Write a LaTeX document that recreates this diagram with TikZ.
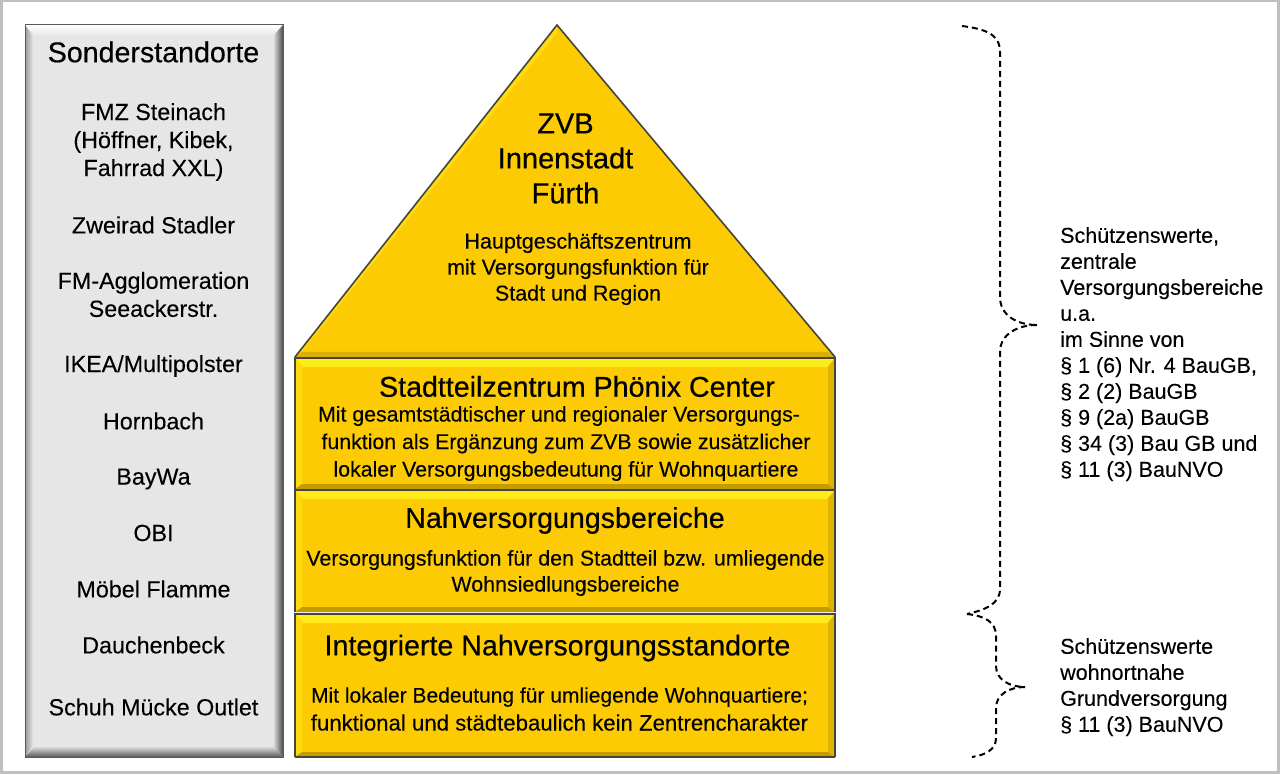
\documentclass[tikz,border=0pt]{standalone}
\usepackage{fontspec}
\setmainfont{Liberation Sans}[FakeBold=0.15]
\newfontfamily\heavy{Liberation Sans}[FakeBold=0.45]
\definecolor{Face}{HTML}{E6E6E6}
\definecolor{Gold}{HTML}{FDCB04}
\definecolor{GoldLight}{HTML}{FFEA1C}
\definecolor{GoldDark}{HTML}{C49C00}
\definecolor{EdgeDark}{HTML}{45453A}
\begin{document}
\begin{tikzpicture}[x=1pt,y=-1pt]
	\tikzstyle{Title} = [inner sep=0pt, align=center, font=\heavy\fontsize{28.6}{32}\selectfont]
	\tikzstyle{Entry} = [inner sep=0pt, align=center, font=\fontsize{23.3}{28}\selectfont]
	\tikzstyle{Head} = [inner sep=0pt, align=center, font=\heavy\fontsize{28.6}{34}\selectfont]
	\tikzstyle{Body} = [inner sep=0pt, align=center, font=\fontsize{21.3}{27.5}\selectfont]
	\tikzstyle{Note} = [inner sep=0pt, align=left, anchor=north west, font=\fontsize{21.5}{26}\selectfont]
	\tikzstyle{Brace} = [draw=black, line width=2pt, dash pattern=on 6pt off 4pt]
	\useasboundingbox (0,0) rectangle (1280,775);
	\fill[white] (0,0) rectangle (1280,775);
	\draw[black!25, line width=2.5pt] (1.5,1) rectangle (1278.5,772.5);
	% grey column
	\fill[Face] (25,25) rectangle (283,757);
	\shade[top color=white, bottom color=Face] (25,25) -- (283,25) -- (273,36) -- (35,36) -- cycle;
	\shade[left color=black!40, right color=Face] (25,25) -- (33,36) -- (33,746) -- (25,757) -- cycle;
	\shade[left color=Face, right color=black!70] (283,25) -- (273,36) -- (273,746) -- (283,757) -- cycle;
	\shade[top color=Face, bottom color=black!65] (25,757) -- (35,746) -- (273,746) -- (283,757) -- cycle;
	\draw[black!65, line width=1pt] (25,25) rectangle (283,757);
	% roof
	\fill[Gold] (557,25) -- (835,357) -- (295,357) -- cycle;
	\fill[GoldLight!50!Gold] (557,25) -- (295,357) -- (302,352) -- (557,33) -- cycle;
	\fill[GoldDark!60!Gold] (302,352) -- (295,357) -- (835,357) -- (828,352) -- cycle;
	\draw[EdgeDark, line width=1.6pt] (295,357) -- (557,25) -- (835,357);
	% storeys
	\foreach \ya/\yb in {358/489, 490/612, 614/757}{
		\fill[Gold] (295,\ya) rectangle (835,\yb);
		\fill[GoldLight] (295,\ya) -- (835,\ya) -- (827,\ya+9) -- (303,\ya+9) -- cycle;
		\fill[GoldLight!50!Gold] (295,\ya) -- (302,\ya+9) -- (302,\yb-5) -- (295,\yb) -- cycle;
		\fill[GoldDark] (295,\yb) -- (302,\yb-5) -- (828,\yb-5) -- (835,\yb) -- cycle;
		\fill[GoldDark!50!Gold] (835,\ya) -- (828,\ya+9) -- (828,\yb-5) -- (835,\yb) -- cycle;
		\draw[EdgeDark, line width=2pt] (295,\yb) -- (295,\ya) -- (835,\ya) -- (835,\yb);
	}
	\draw[EdgeDark, line width=2pt] (295,757) -- (835,757);
	% left column
	\node (sonder) at (153.5,52) [Title] {Sonderstandorte};
	\node (fmz) at (153.5,142) [Entry] {FMZ Steinach\\(Höffner, Kibek,\\Fahrrad XXL)};
	\node (stadler) at (153.5,225) [Entry] {Zweirad Stadler};
	\node (seeacker) at (153.5,294.5) [Entry] {FM-Agglomeration\\Seeackerstr.};
	\node (ikea) at (153.5,366) [Entry] {IKEA/Multipolster};
	\node (hornbach) at (153.5,421) [Entry] {Hornbach};
	\node (baywa) at (153.5,479) [Entry] {BayWa};
	\node (obi) at (153.5,533) [Entry] {OBI};
	\node (flamme) at (153.5,589) [Entry] {Möbel Flamme};
	\node (dauchen) at (153.5,645) [Entry] {Dauchenbeck};
	\node (schuh) at (153.5,707) [Entry] {Schuh Mücke Outlet};
	% pyramid texts
	\node (zvb) at (565.5,158.5) [Head, font=\heavy\fontsize{29}{35}\selectfont] {ZVB\\Innenstadt\\Fürth};
	\node (haupt) at (578,269) [Body, font=\fontsize{21.5}{26}\selectfont] {Hauptgeschäftszentrum\\mit Versorgungsfunktion für\\Stadt und Region};
	\node (phoenix) at (577,386.5) [Head] {Stadtteilzentrum Phönix Center};
	\node (phoenixtext) at (566,443.5) [Body] {Mit gesamtstädtischer und regionaler Versorgungs-\hspace*{14pt}\\funktion als Ergänzung zum ZVB sowie zusätzlicher\\lokaler Versorgungsbedeutung für Wohnquartiere};
	\node (nah) at (565,520.5) [Head] {Nahversorgungsbereiche};
	\node (nahtext) at (565.5,573) [Body, font=\fontsize{21.4}{26}\selectfont] {Versorgungsfunktion für den Stadtteil bzw. umliegende\\Wohnsiedlungsbereiche};
	\node (integ) at (557.5,648) [Head] {Integrierte Nahversorgungsstandorte};
	\node (integtext) at (559.5,709) [Body, font=\fontsize{21}{28}\selectfont] {Mit lokaler Bedeutung für umliegende Wohnquartiere;\\\fontsize{22.2}{28}\selectfont funktional und städtebaulich kein Zentrencharakter};
	% right notes
	\node (zentral) at (1060,227) [Note] {Schützenswerte,\\zentrale\\Versorgungsbereiche\\u.a.\\im Sinne von\\§ 1 (6) Nr. 4 BauGB,\\§ 2 (2) BauGB\\§ 9 (2a) BauGB\\§ 34 (3) Bau GB und\\§ 11 (3) BauNVO};
	\node (wohn) at (1060,638) [Note] {Schützenswerte\\wohnortnahe\\Grundversorgung\\§ 11 (3) BauNVO};
	% braces
	\coordinate (topstart) at (962,26);
	\coordinate (topa) at (1000,52);
	\coordinate (topb) at (1000,297);
	\coordinate (toptip) at (1037,325);
	\coordinate (topc) at (1000,352);
	\coordinate (topd) at (1000,589);
	\coordinate (join) at (967,614);
	\coordinate (lowa) at (996,636);
	\coordinate (lowb) at (996,666);
	\coordinate (lowtip) at (1025,687);
	\coordinate (lowc) at (996,708);
	\coordinate (lowd) at (996,738);
	\coordinate (lowend) at (972,757);
	\draw[Brace] (topstart) .. controls (985,29) and (1000,34) .. (topa) -- (topb) .. controls (1000,316) and (1018,325) .. (toptip);
	\draw[Brace] (toptip) .. controls (1018,325) and (1000,334) .. (topc) -- (topd) .. controls (1000,604) and (985,610) .. (join);
	\draw[Brace] (join) .. controls (985,616) and (996,622) .. (lowa) -- (lowb) .. controls (996,680) and (1010,687) .. (lowtip);
	\draw[Brace] (lowtip) .. controls (1010,687) and (996,694) .. (lowc) -- (lowd) .. controls (996,750) and (985,755) .. (lowend);
\end{tikzpicture}
\end{document}
